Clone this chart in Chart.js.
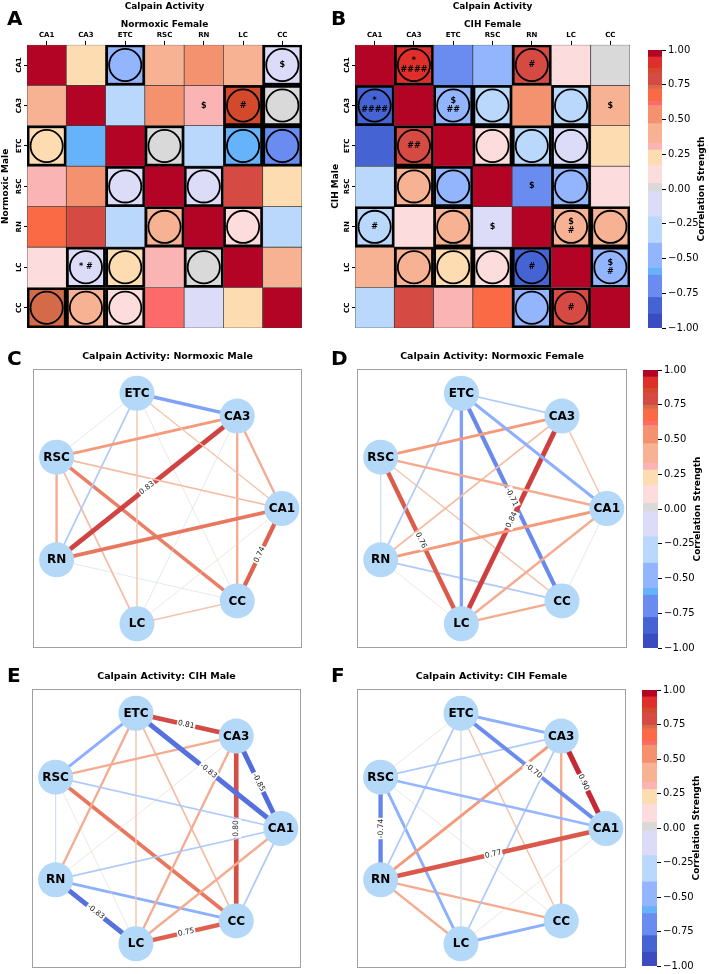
<!DOCTYPE html>
<html>
<head>
<meta charset="utf-8">
<script src="https://cdn.jsdelivr.net/npm/chart.js@4.4.1/dist/chart.umd.min.js"></script>
<style>
  body { margin: 0; background: #fff; font-family: "DejaVu Sans", sans-serif; }
  #page { position: relative; width: 709px; height: 974px; overflow: hidden; }
  .box { position: absolute; }
  .letter { position: absolute; font-weight: bold; font-size: 20px; line-height: 20px; color: #000; }
</style>
</head>
<body>
<div id="page">
  <div class="box" style="left:0;top:0;width:306px;height:332px"><canvas id="heatA"></canvas></div>
  <div class="box" style="left:330px;top:0;width:304px;height:332px"><canvas id="heatB"></canvas></div>
  <div class="box" style="left:630px;top:40px;width:79px;height:298px"><canvas id="cbar1"></canvas></div>
  <div class="box" style="left:20px;top:345px;width:290px;height:310px"><canvas id="netC"></canvas></div>
  <div class="box" style="left:344px;top:345px;width:290px;height:310px"><canvas id="netD"></canvas></div>
  <div class="box" style="left:630px;top:360px;width:79px;height:298px"><canvas id="cbar2"></canvas></div>
  <div class="box" style="left:19px;top:665px;width:290px;height:310px"><canvas id="netE"></canvas></div>
  <div class="box" style="left:344px;top:665px;width:290px;height:310px"><canvas id="netF"></canvas></div>
  <div class="box" style="left:630px;top:680px;width:79px;height:294px"><canvas id="cbar3"></canvas></div>

  <div class="letter" style="left:7px;top:8px">A</div>
  <div class="letter" style="left:331px;top:8px">B</div>
  <div class="letter" style="left:7px;top:348px">C</div>
  <div class="letter" style="left:331px;top:348px">D</div>
  <div class="letter" style="left:7px;top:665px">E</div>
  <div class="letter" style="left:331px;top:665px">F</div>
</div>
<script>
// ---------- data ----------
const REGIONS = ['CA1', 'CA3', 'ETC', 'RSC', 'RN', 'LC', 'CC'];

// correlation matrices, rows / cols in REGIONS order
const NORMOXIC_MALE = [
  [1.00, 0.40, 0.25, 0.30, 0.65, 0.10, 0.74],
  [0.40, 1.00, -0.58, 0.50, 0.83, -0.10, 0.40],
  [0.25, -0.58, 1.00, -0.10, -0.30, 0.25, 0.10],
  [0.30, 0.50, -0.10, 1.00, 0.40, 0.30, 0.61],
  [0.65, 0.83, -0.30, 0.40, 1.00, 0.00, -0.10],
  [0.10, -0.10, 0.25, 0.30, 0.00, 1.00, 0.25],
  [0.74, 0.40, 0.10, 0.61, -0.10, 0.25, 1.00]
];
const NORMOXIC_FEMALE = [
  [1.00, 0.25, -0.50, 0.40, 0.50, 0.40, -0.10],
  [0.25, 1.00, -0.30, 0.50, 0.30, 0.84, 0.00],
  [-0.50, -0.30, 1.00, 0.00, -0.30, -0.58, -0.71],
  [0.40, 0.50, 0.00, 1.00, -0.10, 0.76, 0.25],
  [0.50, 0.30, -0.30, -0.10, 1.00, 0.10, -0.30],
  [0.40, 0.84, -0.58, 0.76, 0.10, 1.00, 0.40],
  [-0.10, 0.00, -0.71, 0.25, -0.30, 0.40, 1.00]
];
const CIH_MALE = [
  [1.00, -0.85, -0.83, -0.30, -0.30, 0.40, -0.30],
  [-0.85, 1.00, 0.81, 0.40, 0.10, 0.40, 0.80],
  [-0.83, 0.81, 1.00, -0.50, 0.40, 0.25, 0.30],
  [-0.30, 0.40, -0.50, 1.00, -0.10, 0.10, 0.65],
  [-0.30, 0.10, 0.40, -0.10, 1.00, -0.83, -0.50],
  [0.40, 0.40, 0.25, 0.10, -0.83, 1.00, 0.75],
  [-0.30, 0.80, 0.30, 0.65, -0.50, 0.75, 1.00]
];
const CIH_FEMALE = [
  [1.00, 0.90, -0.70, -0.45, 0.77, 0.10, 0.00],
  [0.90, 1.00, -0.50, -0.30, 0.50, -0.30, 0.40],
  [-0.70, -0.50, 1.00, 0.10, -0.30, -0.10, 0.25],
  [-0.45, -0.30, 0.10, 1.00, -0.74, -0.50, 0.10],
  [0.77, 0.50, -0.30, -0.74, 1.00, 0.40, 0.40],
  [0.10, -0.30, -0.10, -0.50, 0.40, 1.00, -0.50],
  [0.00, 0.40, 0.25, 0.10, 0.40, -0.50, 1.00]
];

// significance symbols [row, col, text] and circled cells [row, col]
const MARKS_A = [[0, 6, '$'], [1, 4, '$'], [1, 5, '#'], [5, 1, '* #']];
const CIRCLES_A = [[0, 2], [0, 6], [1, 5], [1, 6], [2, 0], [2, 3], [2, 5], [2, 6], [3, 2], [3, 4],
  [4, 3], [4, 5], [5, 1], [5, 2], [5, 4], [6, 0], [6, 1], [6, 2]];
const MARKS_B = [[0, 1, '*\n####'], [0, 4, '#'], [1, 0, '*\n####'], [1, 2, '$\n##'], [1, 6, '$'],
  [2, 1, '##'], [3, 4, '$'], [4, 0, '#'], [4, 3, '$'], [4, 5, '$\n#'], [5, 4, '#'], [5, 6, '$\n#'], [6, 5, '#']];
const CIRCLES_B = [[0, 1], [0, 4], [1, 0], [1, 2], [1, 3], [1, 5], [2, 1], [2, 3], [2, 4], [2, 5],
  [3, 1], [3, 2], [3, 5], [4, 0], [4, 2], [4, 5], [4, 6], [5, 1], [5, 2], [5, 3], [5, 4], [5, 6], [6, 4], [6, 5]];

// discrete colour bands of the colour bar
const BAND_EDGES = [-1, -0.9, -0.78, -0.62, -0.57, -0.39, -0.2, -0.02, 0.04, 0.17, 0.28, 0.33, 0.47, 0.6, 0.63, 0.72, 0.745, 0.835, 0.87, 0.95, 1];
const BAND_COLORS = ['#3b4cc0', '#4563d2', '#6a8cf0', '#66b2fb', '#93b5fe', '#b9d8fb', '#dcdcf9', '#d9d9d9', '#fcdcdc', '#fddcb2',
  '#fbb4b4', '#f7b294', '#f4926f', '#fc6a6a', '#f96a45', '#d36b48', '#d54a43', '#d2492b', '#df2f2a', '#b40426'];
const CBAR_TICKS = [-1, -0.75, -0.5, -0.25, 0, 0.25, 0.5, 0.75, 1];

// ---------- helpers ----------
Chart.defaults.font.family = '"DejaVu Sans", sans-serif';
Chart.defaults.color = '#000';

const COOLWARM = [[59, 76, 192], [98, 130, 234], [141, 176, 254], [184, 208, 249], [221, 221, 221],
  [245, 196, 173], [244, 154, 123], [222, 96, 77], [180, 4, 38]];
function coolwarm(r) {
  const t = Math.min(1, Math.max(0, (r + 1) / 2)) * (COOLWARM.length - 1);
  const i = Math.min(COOLWARM.length - 2, Math.floor(t)), f = t - i;
  const c = COOLWARM[i].map((v, k) => Math.round(v + (COOLWARM[i + 1][k] - v) * f));
  return `rgb(${c[0]},${c[1]},${c[2]})`;
}
function bandColor(v) {
  for (let i = BAND_COLORS.length - 1; i >= 0; i--) if (v >= BAND_EDGES[i]) return BAND_COLORS[i];
  return BAND_COLORS[0];
}
const cellValue = (upper, lower, r, c) => r === c ? 1 : (c > r ? upper[r][c] : lower[r][c]);
const isCircled = (list, r, c) => list.some(p => p[0] === r && p[1] === c);
const fmtTick = v => (v < 0 ? '\u2212' : '') + Math.abs(v).toFixed(2);

// symbols + rotated row labels on the heatmaps
const heatLabels = {
  id: 'heatLabels',
  afterDatasetsDraw(chart, args, opts) {
    const { ctx, chartArea, scales: { x, y } } = chart;
    ctx.save();
    ctx.fillStyle = '#000';
    ctx.textAlign = 'center';
    ctx.textBaseline = 'middle';
    ctx.font = 'bold 8px "DejaVu Sans"';
    opts.marks.forEach(([r, c, txt]) => {
      const lines = txt.split('\n');
      const px = x.getPixelForValue(c), py = y.getPixelForValue(r + 0.5);
      lines.forEach((ln, k) => ctx.fillText(ln, px, py + (k - (lines.length - 1) / 2) * 9));
    });
    ctx.font = 'bold 7px "DejaVu Sans"';
    REGIONS.forEach((name, r) => {
      ctx.save();
      ctx.translate(chartArea.left - 8, y.getPixelForValue(r + 0.5));
      ctx.rotate(-Math.PI / 2);
      ctx.fillText(name, 0, 0);
      ctx.restore();
    });
    ctx.restore();
  }
};

function heatmap(id, upper, lower, marks, circles, xTitle, yTitle, yWidth) {
  const rows = REGIONS.map((_, r) => ({
    type: 'bar',
    data: REGIONS.map(() => [r, r + 1]),
    backgroundColor: REGIONS.map((_, c) => bandColor(cellValue(upper, lower, r, c))),
    borderColor: REGIONS.map((_, c) => isCircled(circles, r, c) ? '#000' : '#3a3a3a'),
    borderWidth: REGIONS.map((_, c) => isCircled(circles, r, c) ? 2.8 : 0.7),
    borderSkipped: false, grouped: false, barPercentage: 1, categoryPercentage: 1, order: 2
  }));
  const rings = {
    type: 'scatter',
    data: circles.map(([r, c]) => ({ x: REGIONS[c], y: r + 0.5 })),
    pointRadius: ctx => ctx.chart.chartArea ? ctx.chart.chartArea.width / REGIONS.length * 0.41 : 16,
    pointBackgroundColor: 'rgba(0,0,0,0)', pointBorderColor: '#000', pointBorderWidth: 1.8,
    showLine: false, order: 1
  };
  new Chart(document.getElementById(id), {
    type: 'bar',
    data: { labels: REGIONS, datasets: [...rows, rings] },
    plugins: [heatLabels],
    options: {
      responsive: true, maintainAspectRatio: false, animation: false, events: [],
      layout: { autoPadding: false, padding: { right: 4, bottom: 4 } },
      plugins: {
        legend: { display: false }, tooltip: { enabled: false },
        title: { display: true, text: 'Calpain Activity', fullSize: false, color: '#000',
          font: { size: 9, weight: 'bold' }, padding: { top: 1, bottom: 1 } },
        heatLabels: { marks }
      },
      scales: {
        x: {
          type: 'category', position: 'top', offset: true,
          grid: { drawOnChartArea: false, offset: false, tickLength: 4, color: '#000' },
          border: { display: false },
          ticks: { font: { size: 7, weight: 'bold' }, color: '#000', padding: 1, maxRotation: 0, autoSkip: false },
          title: { display: true, text: xTitle, color: '#000', font: { size: 9, weight: 'bold' }, padding: { top: 6, bottom: 0 } },
          afterFit: a => { a.height = 32; }
        },
        y: {
          type: 'linear', min: 0, max: 7, reverse: true,
          afterBuildTicks: a => { a.ticks = REGIONS.map((_, i) => ({ value: i + 0.5 })); },
          ticks: { display: false },
          grid: { drawOnChartArea: false, tickLength: 3, color: '#000' },
          border: { display: false },
          title: { display: true, text: yTitle, color: '#000', font: { size: 9, weight: 'bold' }, padding: 0 },
          afterFit: a => { a.width = yWidth; }
        }
      }
    }
  });
}

const cbarTitle = {
  id: 'cbarTitle',
  afterDraw(chart) {
    const { ctx, chartArea } = chart;
    ctx.save();
    ctx.translate(chartArea.right + 40, (chartArea.top + chartArea.bottom) / 2);
    ctx.rotate(-Math.PI / 2);
    ctx.font = 'bold 9px "DejaVu Sans"';
    ctx.fillStyle = '#000';
    ctx.textAlign = 'center';
    ctx.textBaseline = 'middle';
    ctx.fillText('Correlation Strength', 0, 0);
    ctx.restore();
  }
};

function colorbar(id, padLeft, axisWidth, padBottom) {
  new Chart(document.getElementById(id), {
    type: 'bar',
    data: {
      labels: [''],
      datasets: BAND_COLORS.map((col, i) => ({
        data: [[BAND_EDGES[i], BAND_EDGES[i + 1]]], backgroundColor: col, borderWidth: 0,
        grouped: false, barPercentage: 1, categoryPercentage: 1
      }))
    },
    plugins: [cbarTitle],
    options: {
      responsive: true, maintainAspectRatio: false, animation: false, events: [],
      layout: { padding: { left: padLeft, top: 10, bottom: padBottom } },
      plugins: { legend: { display: false }, tooltip: { enabled: false } },
      scales: {
        x: { display: false },
        y: {
          position: 'right', min: -1, max: 1,
          afterBuildTicks: a => { a.ticks = CBAR_TICKS.map(v => ({ value: v })); },
          ticks: { callback: fmtTick, font: { size: 10 }, color: '#000', padding: 2 },
          grid: { drawOnChartArea: false, tickLength: 4, color: '#000' },
          border: { display: false },
          afterFit: a => { a.width = axisWidth; }
        }
      }
    }
  });
}

// node + edge labels and frame for the network panels
const netLabels = {
  id: 'netLabels',
  beforeDraw(chart) {
    const { ctx, chartArea: a } = chart;
    ctx.save();
    ctx.strokeStyle = '#a0a0a0';
    ctx.lineWidth = 1;
    ctx.strokeRect(a.left + 0.5, a.top + 0.5, a.width - 1, a.height - 1);
    ctx.restore();
  },
  afterDatasetsDraw(chart, args, opts) {
    const { ctx, scales: { x, y } } = chart;
    const m = opts.matrix;
    const pos = REGIONS.map((_, i) => {
      const t = 2 * Math.PI * i / REGIONS.length;
      return [x.getPixelForValue(Math.cos(t)), y.getPixelForValue(Math.sin(t))];
    });
    ctx.save();
    ctx.textAlign = 'center';
    ctx.textBaseline = 'middle';
    ctx.font = '7.5px "DejaVu Sans"';
    for (let i = 0; i < REGIONS.length; i++) {
      for (let j = i + 1; j < REGIONS.length; j++) {
        if (Math.abs(m[i][j]) < 0.7) continue;
        const [x1, y1] = pos[i], [x2, y2] = pos[j];
        let ang = Math.atan2(y2 - y1, x2 - x1);
        if (ang > Math.PI / 2) ang -= Math.PI;
        if (ang < -Math.PI / 2) ang += Math.PI;
        const txt = m[i][j].toFixed(2);
        ctx.save();
        ctx.translate((x1 + x2) / 2, (y1 + y2) / 2);
        ctx.rotate(ang);
        const w = ctx.measureText(txt).width;
        ctx.fillStyle = '#fff';
        ctx.fillRect(-w / 2 - 1, -5, w + 2, 10);
        ctx.fillStyle = '#222';
        ctx.fillText(txt, 0, 0);
        ctx.restore();
      }
    }
    ctx.font = 'bold 12px "DejaVu Sans"';
    ctx.fillStyle = '#000';
    REGIONS.forEach((name, i) => ctx.fillText(name, pos[i][0], pos[i][1] + 0.5));
    ctx.restore();
  }
};

function network(id, matrix, title, padRight) {
  const nodes = REGIONS.map((_, i) => {
    const t = 2 * Math.PI * i / REGIONS.length;
    return { x: Math.cos(t), y: Math.sin(t) };
  });
  const edges = [];
  for (let i = 0; i < REGIONS.length; i++) {
    for (let j = i + 1; j < REGIONS.length; j++) {
      const r = matrix[i][j];
      edges.push({
        data: [nodes[i], nodes[j]], showLine: true, pointRadius: 0,
        borderColor: coolwarm(r), borderWidth: Math.max(0.05, Math.abs(r) * 5.8), order: 1
      });
    }
  }
  new Chart(document.getElementById(id), {
    type: 'scatter',
    data: {
      datasets: [...edges, {
        data: nodes, pointRadius: 17.5, backgroundColor: '#b4d8f8', borderWidth: 0, order: 0, clip: false
      }]
    },
    plugins: [netLabels],
    options: {
      responsive: true, maintainAspectRatio: false, animation: false, events: [],
      layout: { autoPadding: false, padding: { left: 13, right: padRight, bottom: 7 } },
      plugins: {
        legend: { display: false }, tooltip: { enabled: false },
        title: { display: true, text: title, fullSize: false, color: '#000',
          font: { size: 9.5, weight: 'bold' }, padding: { top: 6, bottom: 6.6 } },
        netLabels: { matrix }
      },
      scales: {
        x: { display: false, min: -1.10, max: 1.17 },
        y: { display: false, min: -1.18, max: 1.18 }
      }
    }
  });
}

// ---------- charts ----------
heatmap('heatA', NORMOXIC_FEMALE, NORMOXIC_MALE, MARKS_A, CIRCLES_A, 'Normoxic Female', 'Normoxic Male', 27);
heatmap('heatB', CIH_FEMALE, CIH_MALE, MARKS_B, CIRCLES_B, 'CIH Female', 'CIH Male', 25);
colorbar('cbar1', 18, 47, 10);
network('netC', NORMOXIC_MALE, 'Calpain Activity: Normoxic Male', 8);
network('netD', NORMOXIC_FEMALE, 'Calpain Activity: Normoxic Female', 7);
colorbar('cbar2', 13, 51, 10);
network('netE', CIH_MALE, 'Calpain Activity: CIH Male', 8);
network('netF', CIH_FEMALE, 'Calpain Activity: CIH Female', 8);
colorbar('cbar3', 12, 52, 6);
</script>
</body>
</html>
